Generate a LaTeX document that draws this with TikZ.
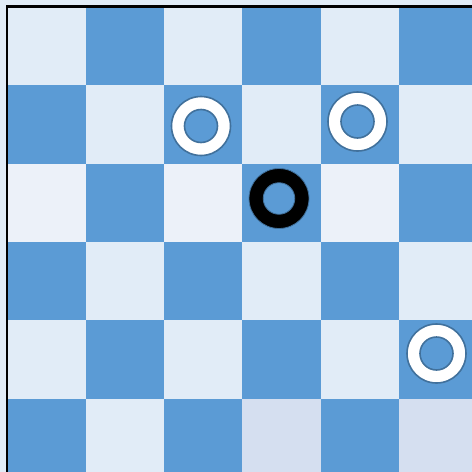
\documentclass[tikz,border=0pt]{standalone}
\usepackage{xcolor}
\usepackage{tikz}

\definecolor{boardlight}{HTML}{E1ECF7}
\definecolor{boardpale}{HTML}{ECF1F9}
\definecolor{boarddim}{HTML}{D5DFF0}
\definecolor{boarddark}{HTML}{5B9BD5}
\definecolor{ringedge}{HTML}{41719C}

\begin{document}
\begin{tikzpicture}[
  x=1pt, y=-1pt,
  whitering/.style={fill=white, draw=ringedge, line width=1.6pt, even odd rule},
  blackring/.style={fill=black, draw=ringedge, line width=0.8pt, even odd rule}
]
\useasboundingbox (0,0) rectangle (472,472);
\clip (0,0) rectangle (472,472);
\fill[boardlight] (0,0) rectangle (472,472);

% squares of the board
\foreach \i in {0,...,5}{
  \foreach \j in {0,...,5}{
    \pgfmathtruncatemacro{\sqpar}{mod(\i+\j,2)}
    \ifnum\sqpar=0
      \fill[boardlight] ({7.5+78.3*\i},{7+78.3*\j}) rectangle ++(78.3,78.3);
    \else
      \fill[boarddark] ({7.5+78.3*\i},{7+78.3*\j}) rectangle ++(78.3,78.3);
    \fi
  }
}
% lighter and dimmer squares
\foreach \i in {0,2,4}
  \fill[boardpale] ({7.5+78.3*\i},{7+78.3*2}) rectangle ++(78.3,78.3);
\foreach \i in {3,5}
  \fill[boarddim] ({7.5+78.3*\i},{7+78.3*5}) rectangle ++(78.3,78.3);

% frame
\draw[line width=2.2pt, line cap=rect] (7,474) -- (7,6.5) -- (474,6.5);

% pieces
\coordinate (pieceA) at (201,126);
\coordinate (pieceB) at (357.5,121.5);
\coordinate (pieceC) at (279,198.5);
\coordinate (pieceD) at (436.5,353.5);
\path[whitering] (pieceA) circle (29.5) circle (16.5);
\path[whitering] (pieceB) circle (29.5) circle (16.5);
\path[blackring] (pieceC) circle (30) circle (15.8);
\path[whitering] (pieceD) circle (29.5) circle (16.5);
\end{tikzpicture}
\end{document}
